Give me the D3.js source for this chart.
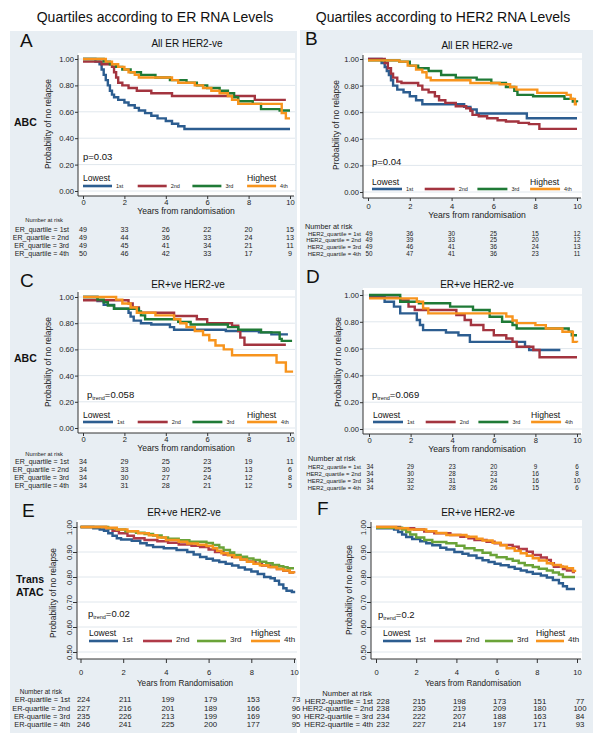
<!DOCTYPE html>
<html>
<head>
<meta charset="utf-8">
<script src="https://cdn.jsdelivr.net/npm/d3@7"></script>
<style>
  body { margin: 0; background: #fff; }
  svg { display: block; font-family: "Liberation Sans", Arial, sans-serif; }
</style>
</head>
<body>
<div id="chart"></div>
<script>
// ---- data ----
const years = [0, 2, 4, 6, 8, 10];
const quartiles = ['1st', '2nd', '3rd', '4th'];
const colHeaders = ['Quartiles according to ER RNA Levels', 'Quartiles according to HER2 RNA Levels'];
const panelTitles = ['All ER HER2-ve', 'All ER HER2-ve', 'ER+ve HER2-ve', 'ER+ve HER2-ve', 'ER+ve HER2-ve', 'ER+ve HER2-ve'];
const pValues = ['0.03', '0.04', '0.058', '0.069', '0.02', '0.2'];

// Kaplan-Meier steps [years, probability], one array per quartile (1st..4th)
const curvesA = [
  [[0,1],[0.6,0.98],[0.8,0.96],[0.9,0.92],[1.0,0.88],[1.1,0.84],[1.2,0.80],[1.3,0.76],[1.4,0.73],[1.5,0.71],[1.7,0.69],[2.0,0.67],[2.2,0.65],[2.5,0.63],[2.7,0.61],[3.0,0.59],[3.3,0.57],[3.6,0.55],[4.0,0.53],[4.3,0.51],[4.6,0.49],[4.9,0.47],[10,0.47]],
  [[0,0.98],[0.9,0.96],[1.4,0.94],[1.5,0.90],[1.6,0.86],[1.7,0.82],[1.9,0.80],[2.2,0.78],[2.6,0.76],[3.3,0.74],[4.3,0.72],[8.3,0.69],[9.8,0.69]],
  [[0,1],[1.0,0.98],[1.3,0.96],[1.6,0.94],[1.9,0.92],[2.3,0.90],[2.8,0.88],[3.5,0.86],[4.2,0.84],[5.0,0.82],[5.5,0.80],[6.0,0.78],[6.6,0.76],[7.0,0.74],[7.3,0.71],[7.5,0.68],[8.2,0.66],[8.6,0.62],[9.5,0.61],[10,0.61]],
  [[0,1],[1.1,0.98],[1.4,0.96],[1.7,0.94],[2.0,0.92],[2.2,0.90],[2.5,0.88],[2.7,0.86],[4.3,0.84],[4.6,0.82],[5.4,0.80],[5.8,0.78],[6.2,0.76],[6.6,0.74],[7.0,0.72],[7.2,0.69],[7.5,0.66],[9.6,0.59],[9.8,0.55],[10,0.55]]
];
const curvesB = [
  [[0,1],[0.65,0.97],[0.8,0.94],[0.9,0.91],[1.0,0.88],[1.1,0.84],[1.2,0.80],[1.4,0.77],[1.7,0.75],[2.0,0.72],[2.3,0.69],[2.6,0.66],[4.6,0.64],[4.9,0.62],[5.2,0.59],[7.6,0.555],[10,0.555]],
  [[0,1],[0.8,0.97],[0.95,0.93],[1.1,0.89],[1.2,0.86],[1.4,0.83],[1.6,0.82],[2.4,0.80],[2.6,0.77],[2.9,0.75],[3.2,0.72],[3.4,0.69],[3.7,0.67],[4.2,0.645],[4.7,0.63],[4.9,0.61],[5.0,0.58],[5.3,0.57],[5.7,0.555],[6.2,0.54],[6.6,0.53],[7.2,0.52],[7.7,0.51],[8.2,0.475],[10,0.475]],
  [[0,0.99],[1.5,0.98],[2.0,0.95],[2.4,0.93],[2.9,0.91],[3.5,0.88],[4.2,0.86],[5.2,0.845],[5.9,0.82],[6.6,0.79],[7.0,0.76],[7.15,0.73],[7.9,0.72],[9.4,0.70],[9.8,0.68],[10,0.675]],
  [[0,0.99],[1.5,0.98],[1.9,0.95],[2.3,0.92],[2.6,0.90],[2.8,0.86],[3.0,0.84],[4.9,0.82],[6.3,0.81],[6.8,0.79],[7.1,0.77],[8.1,0.745],[9.5,0.73],[9.7,0.70],[9.9,0.66],[10,0.66]]
];
const curvesC = [
  [[0,1],[0.7,0.97],[1.0,0.94],[1.5,0.91],[2.2,0.88],[2.3,0.85],[2.45,0.82],[2.8,0.80],[3.3,0.79],[4.2,0.77],[4.4,0.75],[6.9,0.74],[8.5,0.73],[9.1,0.715],[9.9,0.715]],
  [[0,0.975],[2.2,0.95],[2.4,0.92],[2.7,0.88],[4.4,0.855],[5.5,0.83],[6.0,0.80],[7.2,0.78],[7.5,0.74],[7.6,0.69],[7.8,0.635],[9.8,0.635]],
  [[0,1],[0.7,0.98],[1.0,0.96],[1.2,0.935],[1.5,0.91],[2.7,0.89],[2.8,0.86],[3.0,0.83],[4.6,0.81],[5.2,0.79],[7.0,0.77],[7.5,0.75],[8.6,0.73],[9.5,0.68],[9.6,0.665],[10.1,0.665]],
  [[0,1],[1.6,0.98],[1.9,0.95],[2.3,0.92],[2.6,0.88],[3.5,0.86],[4.4,0.83],[4.7,0.80],[5.0,0.77],[5.4,0.74],[5.8,0.71],[6.1,0.67],[6.4,0.63],[6.8,0.60],[7.2,0.555],[9.35,0.50],[9.8,0.43],[10.15,0.43]]
];
const curvesD = [
  [[0,0.99],[0.75,0.95],[1.2,0.913],[1.5,0.863],[2.3,0.813],[2.45,0.776],[2.6,0.738],[3.7,0.72],[4.3,0.70],[4.85,0.65],[7.5,0.615],[7.7,0.59],[9.2,0.59]],
  [[0,0.98],[1.5,0.96],[1.9,0.913],[2.2,0.888],[4.2,0.85],[4.6,0.813],[4.9,0.776],[5.5,0.738],[6.0,0.70],[6.6,0.675],[6.9,0.65],[7.1,0.614],[7.9,0.59],[8.2,0.535],[10,0.535]],
  [[0,1],[1.5,0.95],[2.4,0.938],[3.9,0.913],[5.0,0.888],[5.8,0.838],[6.4,0.80],[6.9,0.776],[7.1,0.75],[9.6,0.726],[9.75,0.70],[10,0.70]],
  [[0,0.975],[2.3,0.95],[2.6,0.90],[2.85,0.863],[6.6,0.84],[6.9,0.81],[7.1,0.79],[8.0,0.775],[8.5,0.75],[9.3,0.726],[9.8,0.65],[10,0.645]]
];
const curvesE = [
  [[0,1],[0.6,0.995],[0.9,0.99],[1.1,0.985],[1.3,0.975],[1.5,0.965],[1.7,0.955],[1.9,0.95],[2.4,0.945],[2.8,0.935],[3.1,0.927],[3.4,0.92],[3.9,0.915],[4.5,0.908],[5.0,0.90],[5.3,0.89],[5.6,0.88],[5.9,0.873],[6.2,0.866],[6.5,0.86],[6.8,0.853],[7.1,0.846],[7.4,0.838],[7.7,0.83],[8.0,0.822],[8.3,0.812],[8.6,0.80],[8.9,0.795],[9.1,0.785],[9.3,0.77],[9.5,0.755],[9.65,0.745],[9.9,0.74],[10,0.735]],
  [[0,1],[1.2,0.995],[1.5,0.985],[1.8,0.975],[2.2,0.965],[2.5,0.955],[3.0,0.948],[3.6,0.943],[4.1,0.937],[4.6,0.93],[5.2,0.925],[5.6,0.92],[6.0,0.91],[6.3,0.90],[6.7,0.89],[7.1,0.88],[7.5,0.87],[7.8,0.862],[8.2,0.853],[8.5,0.846],[8.9,0.84],[9.2,0.832],[9.5,0.825],[9.8,0.818],[10,0.815]],
  [[0,1],[1.3,0.995],[1.7,0.99],[2.1,0.983],[2.6,0.977],[3.0,0.972],[3.4,0.966],[3.8,0.958],[4.1,0.953],[4.6,0.947],[5.1,0.941],[5.9,0.936],[6.2,0.928],[6.5,0.918],[6.7,0.908],[7.0,0.898],[7.2,0.888],[7.5,0.881],[7.8,0.874],[8.1,0.868],[8.4,0.861],[8.7,0.855],[9.0,0.848],[9.3,0.843],[9.5,0.839],[9.7,0.835],[10,0.835]],
  [[0,1],[1.2,0.997],[1.7,0.99],[2.2,0.983],[2.7,0.975],[3.2,0.967],[3.6,0.958],[4.0,0.948],[4.6,0.941],[5.0,0.934],[5.5,0.929],[5.9,0.924],[6.2,0.915],[6.4,0.905],[6.6,0.895],[6.9,0.887],[7.2,0.879],[7.5,0.87],[7.8,0.861],[8.1,0.853],[8.4,0.847],[8.8,0.84],[9.2,0.832],[9.5,0.826],[9.8,0.818],[10,0.815]]
];
const curvesF = [
  [[0,0.995],[0.9,0.99],[1.1,0.98],[1.3,0.97],[1.5,0.96],[1.8,0.952],[2.2,0.943],[2.5,0.935],[2.8,0.927],[3.2,0.917],[3.5,0.91],[3.9,0.90],[4.3,0.893],[4.6,0.886],[5.0,0.876],[5.3,0.867],[5.6,0.86],[5.9,0.853],[6.2,0.847],[6.6,0.84],[6.9,0.833],[7.2,0.826],[7.5,0.82],[7.8,0.813],[8.2,0.806],[8.5,0.798],[8.8,0.788],[9.1,0.775],[9.3,0.763],[9.5,0.752],[9.9,0.752]],
  [[0,1],[1.2,0.995],[1.9,0.99],[2.4,0.982],[2.9,0.975],[3.7,0.968],[4.2,0.961],[4.6,0.955],[4.9,0.948],[5.5,0.941],[5.9,0.935],[6.2,0.928],[6.8,0.921],[7.1,0.912],[7.5,0.901],[7.8,0.888],[8.2,0.878],[8.5,0.868],[8.7,0.855],[8.85,0.841],[9.3,0.832],[9.5,0.826],[9.8,0.82],[9.9,0.82]],
  [[0,0.997],[1.3,0.99],[1.5,0.98],[1.7,0.97],[2.0,0.958],[2.4,0.948],[2.8,0.94],[3.5,0.935],[4.0,0.925],[4.4,0.915],[4.9,0.907],[5.3,0.897],[5.7,0.888],[6.0,0.879],[6.5,0.872],[6.8,0.865],[7.1,0.856],[7.4,0.847],[7.8,0.84],[8.1,0.833],[8.5,0.826],[8.8,0.818],[9.1,0.81],[9.3,0.80],[9.9,0.80]],
  [[0,1],[1.0,0.995],[1.6,0.99],[2.5,0.983],[3.0,0.976],[3.5,0.968],[4.5,0.961],[5.0,0.953],[5.3,0.946],[5.8,0.937],[6.2,0.927],[6.5,0.915],[6.9,0.905],[7.2,0.895],[7.5,0.885],[7.8,0.875],[8.1,0.866],[8.5,0.855],[8.8,0.848],[9.2,0.841],[9.5,0.835],[9.8,0.824],[9.9,0.82]]
];

// numbers at risk, rows = quartiles, columns = years
const riskA = [[49,33,26,22,20,15],[49,44,36,33,24,13],[49,45,41,34,21,11],[50,46,42,33,17,9]];
const riskB = [[49,36,30,25,15,12],[49,39,33,25,20,12],[49,46,41,36,24,13],[50,47,41,36,23,11]];
const riskC = [[34,29,25,23,19,11],[34,33,30,25,13,6],[34,30,27,24,12,8],[34,31,28,21,12,5]];
const riskD = [[34,29,23,20,9,6],[34,30,28,23,16,8],[34,32,31,24,16,10],[34,32,28,26,15,6]];
const riskE = [[224,211,199,179,153,73],[227,216,201,189,166,96],[235,226,213,199,169,90],[246,241,225,200,177,95]];
const riskF = [[228,215,198,173,151,77],[238,230,219,209,180,100],[234,222,207,188,163,84],[232,227,214,197,171,93]];

const ticksFull = [0, 0.2, 0.4, 0.6, 0.8, 1];
const ticksTop = [0.5, 0.6, 0.7, 0.8, 0.9, 1];

const colorsABC = ['#2c5d90', '#a3343f', '#1f7a36', '#f7941d'];
const colorsTrans = ['#2c5d90', '#b03a48', '#6aa338', '#f7941d'];

// ---- drawing ----
const width = 600, height = 746;
const svg = d3.select('#chart').append('svg')
  .attr('width', width)
  .attr('height', height);

const bgColor = '#e8eef3';
svg.append('rect').attr('x', 10).attr('y', 31).attr('width', 287).attr('height', 702).attr('fill', bgColor);
svg.append('rect').attr('x', 300).attr('y', 30).attr('width', 293).attr('height', 703).attr('fill', bgColor);

svg.selectAll('text.colhead')
  .data(colHeaders)
  .join('text')
  .attr('class', 'colhead')
  .attr('x', (d, i) => i === 0 ? 155 : 443)
  .attr('y', 22)
  .attr('text-anchor', 'middle')
  .style('font-size', '14px')
  .attr('fill', '#111')
  .text(d => d);

// row group labels
const rowLabels = [
  { x: 14, y: 126, t: 'ABC' },
  { x: 14, y: 362, t: 'ABC' },
  { x: 16, y: 583, t: 'Trans' },
  { x: 16, y: 596, t: 'ATAC' }
];
svg.selectAll('text.rowlab')
  .data(rowLabels)
  .join('text')
  .attr('class', 'rowlab')
  .attr('x', d => d.x)
  .attr('y', d => d.y)
  .style('font-size', '10.5px')
  .style('font-weight', 'bold')
  .attr('fill', '#111')
  .text(d => d.t);

function drawPanel(c) {
  const L = c.layout;
  const g = svg.append('g');
  const x = d3.scaleLinear().domain([0, 10]).range(L.xr);
  const y = d3.scaleLinear().domain(c.yDomain).range(L.yr);

  // plot region
  g.append('rect')
    .attr('x', L.axX).attr('y', L.top)
    .attr('width', L.right - L.axX).attr('height', L.axY - L.top)
    .attr('fill', '#fff');

  g.selectAll('line.grid')
    .data(c.yTicks)
    .join('line')
    .attr('class', 'grid')
    .attr('x1', L.axX).attr('x2', L.right)
    .attr('y1', d => y(d)).attr('y2', d => y(d))
    .attr('stroke', '#e0e7ed')
    .attr('stroke-width', 1);

  // y axis
  const yAx = g.append('g')
    .attr('transform', `translate(${L.axX},0)`)
    .call(d3.axisLeft(y).tickValues(c.yTicks).tickFormat(d3.format('.2f')).tickSize(L.tickSize).tickSizeOuter(0).tickPadding(1));
  yAx.select('.domain').remove();
  yAx.selectAll('line').attr('stroke', '#333');
  yAx.selectAll('text').style('font-size', L.tickFont + 'px').attr('fill', '#222');
  if (c.rotateY) {
    yAx.selectAll('text')
      .attr('transform', 'rotate(-90)')
      .attr('x', 0)
      .attr('y', -5)
      .attr('dy', 0)
      .attr('text-anchor', 'middle');
  }

  // x axis
  const xAx = g.append('g')
    .attr('transform', `translate(0,${L.axY})`)
    .call(d3.axisBottom(x).tickValues(years).tickFormat(d3.format('d')).tickSize(L.tickSize).tickSizeOuter(0));
  xAx.select('.domain').remove();
  xAx.selectAll('line').attr('stroke', '#333');
  xAx.selectAll('text')
    .style('font-size', L.tickFont + 'px')
    .attr('fill', '#222')
    .attr('y', L.xTickY - L.axY)
    .attr('dy', 0);

  g.append('line')
    .attr('x1', L.axX).attr('x2', L.axX)
    .attr('y1', L.top + 2).attr('y2', L.axY)
    .attr('stroke', '#333');
  g.append('line')
    .attr('x1', L.axX).attr('x2', L.right - 1)
    .attr('y1', L.axY).attr('y2', L.axY)
    .attr('stroke', '#333');

  // axis titles
  g.append('text')
    .attr('transform', `translate(${L.ylab[0]},${L.ylab[1]}) rotate(-90)`)
    .attr('text-anchor', 'middle')
    .style('font-size', '8.4px')
    .attr('fill', '#222')
    .text('Probability of no relapse');
  g.append('text')
    .attr('x', L.xTitle[0]).attr('y', L.xTitle[1])
    .attr('text-anchor', 'middle')
    .style('font-size', L.xTitleFont + 'px')
    .attr('fill', '#222')
    .text(c.xTitle);

  // panel letter and title
  g.append('text')
    .attr('x', L.letter[0]).attr('y', L.letter[1])
    .style('font-size', '19px')
    .attr('fill', '#111')
    .text(c.letter);
  g.append('text')
    .attr('x', L.title[0]).attr('y', L.title[1])
    .attr('text-anchor', 'middle')
    .style('font-size', '10px')
    .attr('fill', '#111')
    .text(c.title);

  // curves
  const line = d3.line()
    .x(d => x(d[0]))
    .y(d => y(d[1]))
    .curve(d3.curveStepAfter);
  g.selectAll('path.km')
    .data(c.curves)
    .join('path')
    .attr('class', 'km')
    .attr('d', line)
    .attr('fill', 'none')
    .attr('stroke', (d, i) => c.colors[i])
    .attr('stroke-width', 2.4);

  // p value
  const pt = g.append('text')
    .attr('x', L.p[0]).attr('y', L.p[1])
    .style('font-size', '9.5px')
    .attr('fill', '#111');
  pt.append('tspan').text('p');
  if (c.trend) {
    pt.append('tspan').attr('dy', 2).style('font-size', '5.5px').text('trend');
    pt.append('tspan').attr('dy', -2).text('=' + c.pValue);
  } else {
    pt.append('tspan').text('=' + c.pValue);
  }

  // legend
  const leg = L.leg;
  const items = g.selectAll('g.leg')
    .data(quartiles)
    .join('g')
    .attr('class', 'leg')
    .attr('transform', (d, i) => `translate(${leg.start + i * leg.step},${leg.y})`);
  items.append('line')
    .attr('x1', 0).attr('x2', leg.len)
    .attr('stroke', (d, i) => c.colors[i])
    .attr('stroke-width', 2.6);
  items.append('text')
    .attr('x', leg.len + 4).attr('y', leg.qDy)
    .style('font-size', leg.qFont + 'px')
    .attr('fill', '#222')
    .text(d => d);
  g.append('text')
    .attr('x', leg.start).attr('y', leg.lowY)
    .style('font-size', '8.6px').attr('fill', '#111')
    .text('Lowest');
  g.append('text')
    .attr('x', leg.start + 3 * leg.step).attr('y', leg.lowY)
    .style('font-size', '8.6px').attr('fill', '#111')
    .text('Highest');

  // number at risk table
  const R = L.risk;
  g.append('text')
    .attr('x', R.headX).attr('y', R.headY)
    .attr('text-anchor', R.headAnchor)
    .style('font-size', R.headFont + 'px')
    .attr('fill', '#222')
    .text('Number at risk');
  const rows = g.selectAll('g.riskrow')
    .data(c.risk)
    .join('g')
    .attr('class', 'riskrow')
    .attr('transform', (d, i) => `translate(0,${R.rows[i]})`);
  rows.append('text')
    .attr('x', R.labX)
    .attr('text-anchor', 'end')
    .style('font-size', R.labFont + 'px')
    .attr('fill', '#222')
    .text((d, i) => c.rowLabel + ' = ' + quartiles[i]);
  rows.selectAll('text.num')
    .data(d => d)
    .join('text')
    .attr('class', 'num')
    .attr('x', (d, j) => x(years[j]) + R.numDx + (j === 0 ? R.firstDx : 0))
    .attr('text-anchor', 'middle')
    .style('font-size', R.numFont + 'px')
    .attr('fill', '#222')
    .text(d => d);
}

const panels = [
  { letter: 'A', title: panelTitles[0], curves: curvesA, risk: riskA, pValue: pValues[0], trend: false,
    rowLabel: 'ER_quartile', xTitle: 'Years from randomisation', yDomain: [0, 1], yTicks: ticksFull, colors: colorsABC,
    layout: { xr: [83, 290], yr: [191, 59], axX: 78, axY: 196, top: 53, right: 295, tickSize: 3, tickFont: 7.6, xTickY: 204.5,
      title: [187, 47], letter: [20, 47], ylab: [51, 124], xTitle: [186, 214], xTitleFont: 8.6, p: [83, 160],
      leg: { y: 186, start: 83, step: 54.7, len: 29, qFont: 5.5, qDy: 2, lowY: 181 },
      risk: { headX: 63, headY: 222, headAnchor: 'end', headFont: 5.8, rows: [231.5, 239.5, 247.5, 256], labX: 69, labFont: 7, numFont: 7.2, numDx: 0, firstDx: 0 } } },
  { letter: 'B', title: panelTitles[1], curves: curvesB, risk: riskB, pValue: pValues[1], trend: false,
    rowLabel: 'HER2_quartile', xTitle: 'Years from randomisation', yDomain: [0, 1], yTicks: ticksFull, colors: colorsABC,
    layout: { xr: [368, 577], yr: [192, 59], axX: 363, axY: 198, top: 53, right: 582, tickSize: 3, tickFont: 7.6, xTickY: 208.5,
      title: [477, 49], letter: [305, 45], ylab: [339, 125], xTitle: [477, 218], xTitleFont: 8.6, p: [372, 165],
      leg: { y: 189, start: 372, step: 52.7, len: 30, qFont: 5.5, qDy: 2, lowY: 185 },
      risk: { headX: 305, headY: 229, headAnchor: 'start', headFont: 7.3, rows: [235.5, 242, 248.8, 255.5], labX: 361, labFont: 5.9, numFont: 6.3, numDx: 0, firstDx: 1 } } },
  { letter: 'C', title: panelTitles[2], curves: curvesC, risk: riskC, pValue: pValues[2], trend: true,
    rowLabel: 'ER_quartile', xTitle: 'Years from randomisation', yDomain: [0, 1], yTicks: ticksFull, colors: colorsABC,
    layout: { xr: [83, 290], yr: [428, 297], axX: 78, axY: 433, top: 290, right: 295, tickSize: 3, tickFont: 7.6, xTickY: 442,
      title: [188, 288], letter: [20, 287], ylab: [51, 362], xTitle: [186, 451], xTitleFont: 8.6, p: [87, 398],
      leg: { y: 422, start: 83, step: 54.7, len: 30, qFont: 5.5, qDy: 2, lowY: 418 },
      risk: { headX: 63, headY: 456, headAnchor: 'end', headFont: 5.8, rows: [464, 472, 479.5, 487.5], labX: 69, labFont: 7, numFont: 7.2, numDx: 0, firstDx: 0 } } },
  { letter: 'D', title: panelTitles[3], curves: curvesD, risk: riskD, pValue: pValues[3], trend: true,
    rowLabel: 'HER2_quartile', xTitle: 'Years from randomisation', yDomain: [0, 1], yTicks: ticksFull, colors: colorsABC,
    layout: { xr: [369, 577], yr: [429, 295], axX: 363, axY: 434, top: 288, right: 582, tickSize: 3, tickFont: 7.6, xTickY: 442.5,
      title: [477, 288], letter: [306, 283], ylab: [341, 362], xTitle: [477, 451.5], xTitleFont: 8.6, p: [372, 398],
      leg: { y: 422, start: 373, step: 52.7, len: 30, qFont: 5.5, qDy: 2, lowY: 418 },
      risk: { headX: 308, headY: 460.5, headAnchor: 'start', headFont: 7.3, rows: [468.5, 475.5, 482.5, 489.5], labX: 361, labFont: 5.9, numFont: 6.3, numDx: 0, firstDx: 1 } } },
  { letter: 'E', title: panelTitles[4], curves: curvesE, risk: riskE, pValue: pValues[4], trend: true, rotateY: true,
    rowLabel: 'ER-quartile', xTitle: 'Years from Randomisation', yDomain: [0.5, 1], yTicks: ticksTop, colors: colorsTrans,
    layout: { xr: [80.5, 294], yr: [652, 527], axX: 77, axY: 659, top: 520, right: 297, tickSize: 4, tickFont: 7.6, xTickY: 675,
      title: [184, 516], letter: [22, 517], ylab: [56, 593], xTitle: [185, 686], xTitleFont: 8.2, p: [88, 617],
      leg: { y: 641, start: 89, step: 54, len: 29, qFont: 8, qDy: 1, lowY: 636 },
      risk: { headX: 62, headY: 694, headAnchor: 'end', headFont: 6.5, rows: [702, 710.5, 718.5, 727], labX: 70, labFont: 7.4, numFont: 7.8, numDx: 2, firstDx: 1 } } },
  { letter: 'F', title: panelTitles[5], curves: curvesF, risk: riskF, pValue: pValues[5], trend: true, rotateY: true,
    rowLabel: 'HER2-quartile', xTitle: 'Years from Randomisation', yDomain: [0.5, 1], yTicks: ticksTop, colors: colorsTrans,
    layout: { xr: [376, 577], yr: [652, 527], axX: 371, axY: 659, top: 520, right: 582, tickSize: 4, tickFont: 7.6, xTickY: 675,
      title: [478, 516], letter: [317, 515], ylab: [352, 590], xTitle: [473, 686], xTitleFont: 8.2, p: [378, 618],
      leg: { y: 641, start: 383, step: 51, len: 28, qFont: 8, qDy: 1, lowY: 636 },
      risk: { headX: 347, headY: 695.5, headAnchor: 'middle', headFont: 7.6, rows: [703.5, 711, 719, 727], labX: 373, labFont: 7.8, numFont: 7.8, numDx: 3, firstDx: 4 } } }
];

panels.forEach(drawPanel);
</script>
</body>
</html>
